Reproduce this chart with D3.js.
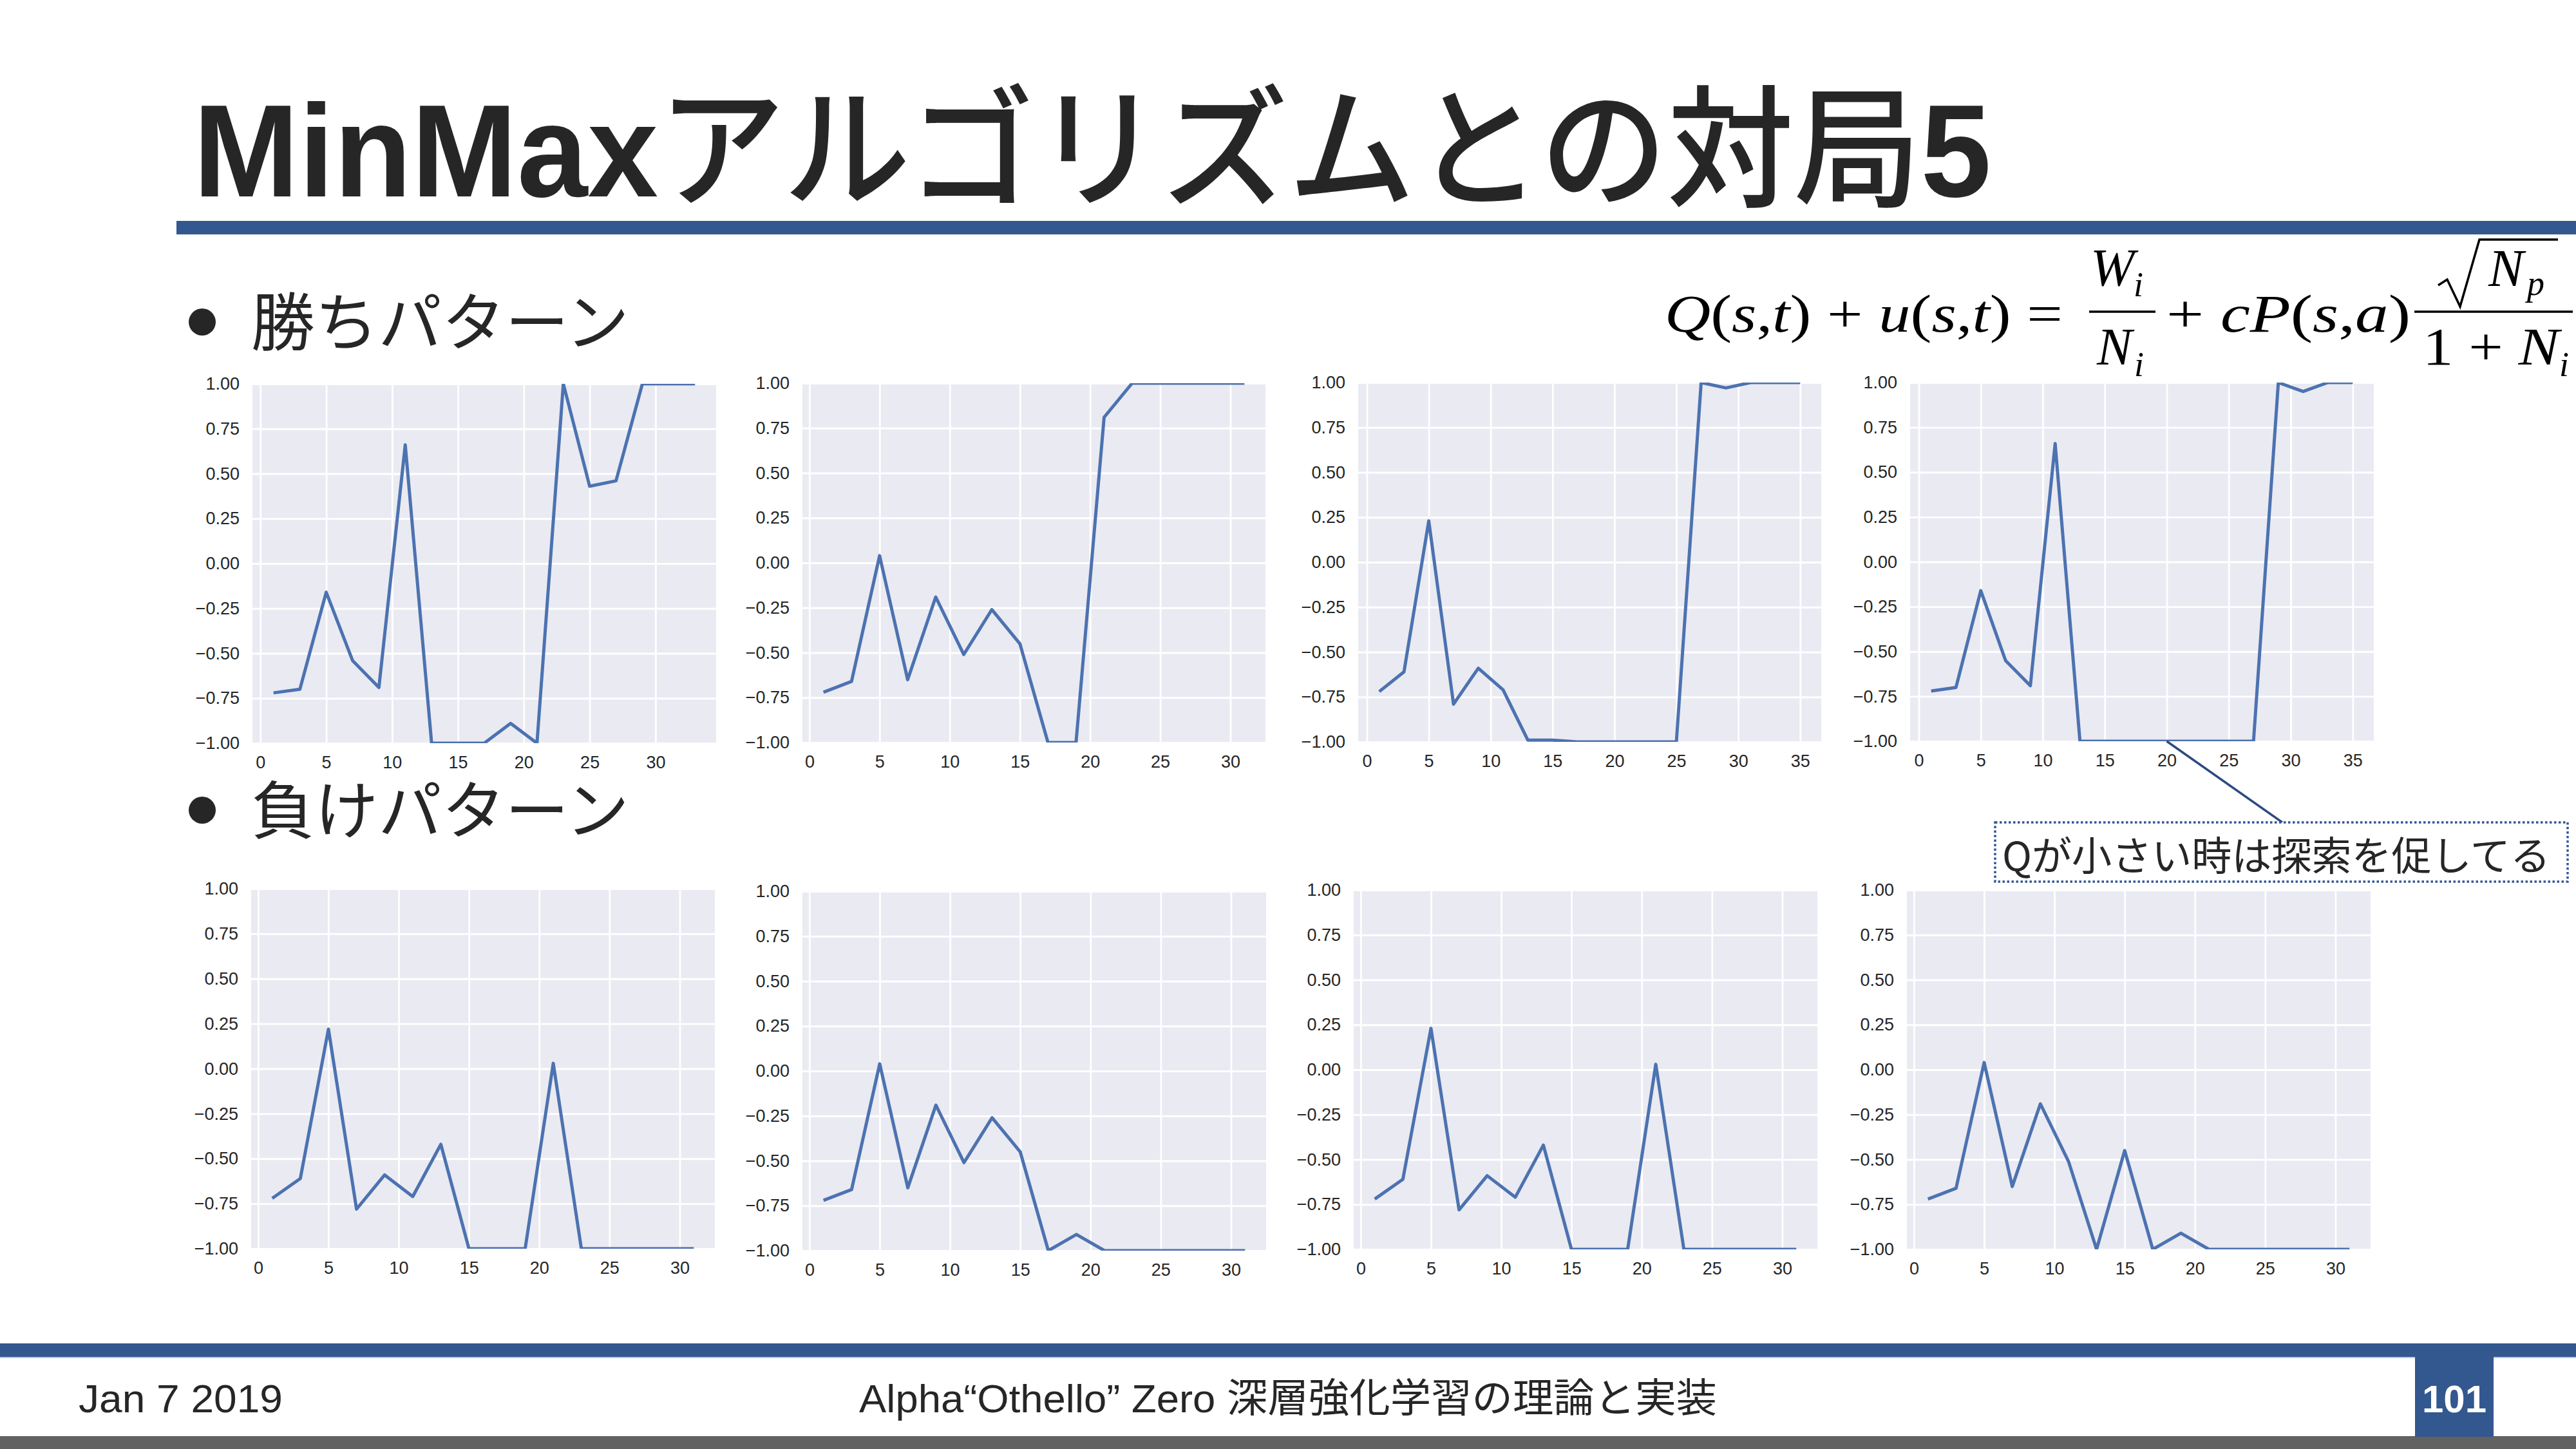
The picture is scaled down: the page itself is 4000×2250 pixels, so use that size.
<!DOCTYPE html>
<html><head><meta charset="utf-8">
<script src="https://cdn.jsdelivr.net/npm/d3@7"></script>
<style>body{margin:0;background:#fff} svg{display:block}</style>
</head><body>
<script>
// ---------- data ----------
const moves31 = [1,3,5,7,9,11,13,15,17,19,21,23,25,27,29,31];
const moves33 = [1,3,5,7,9,11,13,15,17,19,21,23,25,27,29,31,33];
const moves35 = [1,3,5,7,9,11,13,15,17,19,21,23,25,27,29,31,33,35];

const win1 = [-0.72,-0.70,-0.16,-0.54,-0.69,0.66,-1,-1,-1,-0.89,-1,1,0.43,0.46,1,1,1];
const win2 = [-0.72,-0.66,0.04,-0.65,-0.19,-0.51,-0.26,-0.45,-1,-1,0.81,1,1,1,1,1];
const win3 = [-0.72,-0.61,0.23,-0.79,-0.59,-0.71,-0.99,-0.99,-1,-1,-1,-1,-1,1,0.97,1,1,1];
const win4 = [-0.72,-0.70,-0.16,-0.55,-0.69,0.66,-1,-1,-1,-1,-1,-1,-1,-1,1,0.95,1,1];

const lose1 = [-0.72,-0.61,0.22,-0.78,-0.59,-0.71,-0.42,-1,-1,-1,0.03,-1,-1,-1,-1,-1];
const lose2 = [-0.72,-0.66,0.04,-0.65,-0.19,-0.51,-0.26,-0.45,-1,-0.91,-1,-1,-1,-1,-1,-1];
const lose3 = [-0.72,-0.61,0.23,-0.78,-0.59,-0.71,-0.42,-1,-1,-1,0.03,-1,-1,-1,-1,-1];
const lose4 = [-0.72,-0.66,0.04,-0.65,-0.19,-0.51,-1,-0.45,-1,-0.91,-1,-1,-1,-1,-1,-1];

const xTicks30 = [0,5,10,15,20,25,30];
const xTicks35 = [0,5,10,15,20,25,30,35];
const yTicks = [-1,-0.75,-0.5,-0.25,0,0.25,0.5,0.75,1];

const titleText = ["MinMax","アルゴリズムとの対局","5"];
const winLabel = "勝ちパターン";
const loseLabel = "負けパターン";
const noteText = "Qが小さい時は探索を促してる";
const footerDate = "Jan 7 2019";
const footerTitle = "Alpha“Othello” Zero  深層強化学習の理論と実装";
const pageNo = "101";

// ---------- drawing ----------
const BLUE = "#33578f";
const INK = "#262626";
const svg = d3.select("body").append("svg").attr("width",4000).attr("height",2250);
svg.append("rect").attr("width",4000).attr("height",2250).attr("fill","#fff");
const defs = svg.append("defs");

// Title
const tt = svg.append("text").attr("x",300).attr("y",305)
  .attr("font-size",205).attr("fill",INK)
  .attr("font-family","'Liberation Sans','Noto Sans CJK JP',sans-serif")
  .attr("textLength",2792).attr("lengthAdjust","spacingAndGlyphs");
tt.append("tspan").attr("font-weight","bold").text(titleText[0]);
tt.append("tspan").attr("font-weight","500").attr("font-family","'Noto Sans CJK JP'").text(titleText[1]);
tt.append("tspan").attr("font-weight","bold").text(titleText[2]);
svg.append("rect").attr("x",274).attr("y",343).attr("width",3726).attr("height",21).attr("fill",BLUE);

// Bullets
function bullet(y, label){
  svg.append("circle").attr("cx",314).attr("cy",y-36).attr("r",21).attr("fill",INK);
  svg.append("text").attr("x",390).attr("y",y).attr("font-size",98).attr("fill",INK)
    .attr("font-family","'Noto Sans CJK JP',sans-serif")
    .attr("textLength",587).attr("lengthAdjust","spacingAndGlyphs").text(label);
}
bullet(536, winLabel);
bullet(1294, loseLabel);

// Panels
const fmt = v => d3.format(".2f")(v).replace("-","\u2212");
const panels = [
  {moves:moves33, vals:win1, ticks:xTicks30, x0:392,  y0:596,  x1:1112, y1:1154},
  {moves:moves31, vals:win2, ticks:xTicks30, x0:1246, y0:595,  x1:1965, y1:1153},
  {moves:moves35, vals:win3, ticks:xTicks35, x0:2109, y0:594,  x1:2828, y1:1152},
  {moves:moves35, vals:win4, ticks:xTicks35, x0:2966, y0:594,  x1:3686, y1:1151},
  {moves:moves31, vals:lose1, ticks:xTicks30, x0:390,  y0:1380, x1:1110, y1:1939},
  {moves:moves31, vals:lose2, ticks:xTicks30, x0:1246, y0:1384, x1:1966, y1:1942},
  {moves:moves31, vals:lose3, ticks:xTicks30, x0:2102, y0:1382, x1:2822, y1:1940},
  {moves:moves31, vals:lose4, ticks:xTicks30, x0:2961, y0:1382, x1:3681, y1:1940}
];
const scales = [];
panels.forEach((p,i) => {
  const m0 = p.moves[0], mN = p.moves[p.moves.length-1], pad = 0.05*(mN-m0);
  const x = d3.scaleLinear().domain([m0-pad, mN+pad]).range([p.x0,p.x1]);
  const y = d3.scaleLinear().domain([-1,1]).range([p.y1,p.y0]);
  scales.push({x,y});
  const g = svg.append("g");
  g.append("rect").attr("x",p.x0).attr("y",p.y0).attr("width",p.x1-p.x0).attr("height",p.y1-p.y0).attr("fill","#eaeaf2");
  const gy = g.append("g").attr("transform",`translate(${p.x0},0)`)
    .call(d3.axisLeft(y).tickValues(yTicks).tickSize(-(p.x1-p.x0)).tickFormat(""));
  const gx = g.append("g").attr("transform",`translate(0,${p.y1})`)
    .call(d3.axisBottom(x).tickValues(p.ticks).tickSize(-(p.y1-p.y0)).tickFormat(""));
  [gy,gx].forEach(a => { a.select(".domain").remove(); a.selectAll("line").attr("stroke","#fff").attr("stroke-width",2.8); });
  const ly = g.append("g").attr("transform",`translate(${p.x0},0)`)
    .call(d3.axisLeft(y).tickValues(yTicks).tickSize(0).tickPadding(20).tickFormat(fmt));
  const lx = g.append("g").attr("transform",`translate(0,${p.y1})`)
    .call(d3.axisBottom(x).tickValues(p.ticks).tickSize(0).tickPadding(20).tickFormat(d3.format("d")));
  [ly,lx].forEach(a => {
    a.select(".domain").remove();
    a.selectAll("text").attr("font-size",27).attr("fill",INK)
      .attr("font-family","'Liberation Sans Narrow','Liberation Sans',Arial,sans-serif");
  });
  const cid = "clip"+i;
  defs.append("clipPath").attr("id",cid).append("rect")
    .attr("x",p.x0).attr("y",p.y0).attr("width",p.x1-p.x0).attr("height",p.y1-p.y0);
  const pts = p.moves.map((m,k)=>({m, v:p.vals[k]}));
  g.append("path").datum(pts).attr("clip-path",`url(#${cid})`)
    .attr("fill","none").attr("stroke","#4c72b0").attr("stroke-width",5)
    .attr("stroke-linejoin","round")
    .attr("d", d3.line().x(d=>x(d.m)).y(d=>y(d.v)));
});

// Formula
const serif = "'Liberation Serif','DejaVu Serif',serif";
function mtext(x, y, size, parts, len){
  const t = svg.append("text").attr("x",x).attr("y",y).attr("font-size",size)
    .attr("font-family",serif).attr("fill","#000");
  if (len) t.attr("textLength",len).attr("lengthAdjust","spacingAndGlyphs");
  parts.forEach(([s,it]) => t.append("tspan").attr("font-style",it?"italic":"normal").text(s));
  return t;
}
const FS = 82, SUB = 54;
mtext(2585, 515, FS, [["Q",1],["(",0],["s",1],[",",0],["t",1],[")",0],[" + ",0],["u",1],["(",0],["s",1],[",",0],["t",1],[")",0],[" =",0]], 618);
// W_i / N_i
svg.append("line").attr("x1",3244).attr("x2",3347).attr("y1",484).attr("y2",484).attr("stroke","#000").attr("stroke-width",3.5);
mtext(3246, 443, FS, [["W",1]]);
mtext(3313, 460, SUB, [["i",1]]);
mtext(3256, 566, FS, [["N",1]]);
mtext(3314, 584, SUB, [["i",1]]);
mtext(3364, 515, FS, [["+ ",0],["c",1],["P",1],["(",0],["s",1],[",",0],["a",1],[")",0]], 379);
// sqrt(N_p) / (1 + N_i)
svg.append("line").attr("x1",3749).attr("x2",3995).attr("y1",484).attr("y2",484).attr("stroke","#000").attr("stroke-width",3.5);
svg.append("path").attr("d","M3786,443 L3800,434 L3820,476 L3850,372 L3972,372")
  .attr("fill","none").attr("stroke","#000").attr("stroke-width",3.5).attr("stroke-linejoin","miter");
mtext(3864, 444, FS, [["N",1]]);
mtext(3924, 458, SUB, [["p",1]]);
mtext(3762, 566, FS, [["1 + ",0],["N",1]], 212);
mtext(3974, 584, SUB, [["i",1]]);

// Callout
const s4 = scales[3];
svg.append("line").attr("x1",s4.x(20)).attr("y1",s4.y(-1)).attr("x2",3544).attr("y2",1277)
  .attr("stroke","#2c4a80").attr("stroke-width",3.5);
svg.append("rect").attr("x",3098).attr("y",1277).attr("width",889).attr("height",92)
  .attr("fill","#fff").attr("stroke","#2f5597").attr("stroke-width",3.5).attr("stroke-dasharray","3.5 3.5");
svg.append("text").attr("x",3109).attr("y",1352).attr("font-size",62).attr("fill",INK)
  .attr("font-family","'Noto Sans CJK JP',sans-serif")
  .attr("textLength",851).attr("lengthAdjust","spacingAndGlyphs").text(noteText);

// Footer
svg.append("rect").attr("x",0).attr("y",2086).attr("width",4000).attr("height",21).attr("fill",BLUE);
svg.append("rect").attr("x",0).attr("y",2107).attr("width",4000).attr("height",2).attr("fill","#c2cde0");
svg.append("rect").attr("x",0).attr("y",2230).attr("width",4000).attr("height",20).attr("fill","#626262");
svg.append("rect").attr("x",3750).attr("y",2100).attr("width",122).attr("height",131).attr("fill",BLUE);
svg.append("text").attr("x",3811).attr("y",2193).attr("text-anchor","middle").attr("font-size",60)
  .attr("font-weight","bold").attr("fill","#fff").attr("font-family","'Liberation Sans',sans-serif").text(pageNo);
svg.append("text").attr("x",122).attr("y",2193).attr("font-size",62).attr("fill",INK)
  .attr("font-family","'Liberation Sans',sans-serif").attr("textLength",317).attr("lengthAdjust","spacingAndGlyphs").text(footerDate);
svg.append("text").attr("x",1334).attr("y",2193).attr("font-size",62).attr("fill",INK)
  .attr("font-family","'Liberation Sans','Noto Sans CJK JP',sans-serif")
  .attr("textLength",1332).attr("lengthAdjust","spacingAndGlyphs").text(footerTitle);
</script>
</body></html>
